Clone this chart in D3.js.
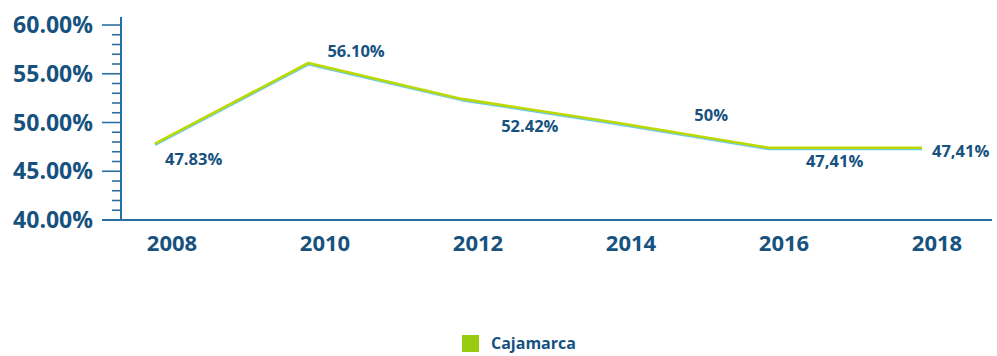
<!DOCTYPE html>
<html>
<head>
<meta charset="utf-8">
<script src="https://cdn.jsdelivr.net/npm/d3@7"></script>
<style>
  html, body { margin: 0; padding: 0; background: #ffffff; }
  svg { display: block; }
  text { font-family: "Open Sans", "Noto Sans", sans-serif; }
</style>
</head>
<body>
<svg id="chart" width="997" height="356"></svg>
<script>
// Share of population (Cajamarca), by survey year
const years = [2008, 2010, 2012, 2014, 2016, 2018];
const values = [47.83, 56.10, 52.42, 50.00, 47.41, 47.41];
const valueLabels = ["47.83%", "56.10%", "52.42%", "50%", "47,41%", "47,41%"];
const yTicks = [40, 45, 50, 55, 60];
const seriesName = "Cajamarca";

const blue = "#17527f";
const axisBlue = "#2a6fa3";
const lineGreen = "#bcd800";
const lineShadow = "#6ccbe8";
const legendGreen = "#99cc11";

const svg = d3.select("#chart");

// scales
const y = d3.scaleLinear().domain([40, 60]).range([220, 25]);
const xLabel = d3.scalePoint().domain(years).range([172, 937]);
const xLine = d3.scaleLinear().domain([2008, 2018]).range([155, 922]);

// y axis: vertical line, major and minor ticks
const axisX = 121;
svg.append("line")
  .attr("x1", axisX).attr("x2", axisX)
  .attr("y1", 17).attr("y2", y(40))
  .attr("stroke", axisBlue).attr("stroke-width", 2);

const minor = d3.range(40, 61, 1);
svg.append("g").selectAll("line").data(minor).join("line")
  .attr("x1", d => d % 5 === 0 ? 102 : 112)
  .attr("x2", axisX)
  .attr("y1", d => y(d)).attr("y2", d => y(d))
  .attr("stroke", axisBlue).attr("stroke-width", 1.6);

svg.append("g").selectAll("text").data(yTicks).join("text")
  .attr("x", 93).attr("y", d => y(d))
  .attr("dy", "0.35em")
  .attr("text-anchor", "end")
  .attr("font-size", 23).attr("font-weight", 700)
  .attr("fill", blue)
  .text(d => d.toFixed(2) + "%");

// x axis baseline
svg.append("line")
  .attr("x1", 102).attr("x2", 992)
  .attr("y1", y(40)).attr("y2", y(40))
  .attr("stroke", axisBlue).attr("stroke-width", 2);

svg.append("g").selectAll("text").data(years).join("text")
  .attr("x", d => xLabel(d)).attr("y", 251)
  .attr("text-anchor", "middle")
  .attr("font-size", 22).attr("font-weight", 700)
  .attr("fill", blue)
  .text(d => d);

// series line with a thin cyan edge beneath
const pts = years.map((yr, i) => ({ year: yr, value: values[i], label: valueLabels[i] }));
const line = d3.line().x(d => xLine(d.year)).y(d => y(d.value));

svg.append("path").datum(pts)
  .attr("d", line)
  .attr("transform", "translate(0,1.2)")
  .attr("fill", "none")
  .attr("stroke", lineShadow).attr("stroke-width", 2.6)
  .attr("stroke-linejoin", "round");

svg.append("path").datum(pts)
  .attr("d", line)
  .attr("fill", "none")
  .attr("stroke", lineGreen).attr("stroke-width", 2.6)
  .attr("stroke-linejoin", "round");

// value labels
const labelPos = [
  { dx: 10, dy: 21, anchor: "start" },
  { dx: 19, dy: -6, anchor: "start" },
  { dx: 68, dy: 33, anchor: "middle" },
  { dx: 96, dy: -2, anchor: "middle" },
  { dx: 66, dy: 19, anchor: "middle" },
  { dx: 10, dy: 9, anchor: "start" }
];
svg.append("g").selectAll("text").data(pts).join("text")
  .attr("x", (d, i) => xLine(d.year) + labelPos[i].dx)
  .attr("y", (d, i) => y(d.value) + labelPos[i].dy)
  .attr("text-anchor", (d, i) => labelPos[i].anchor)
  .attr("font-size", 16.5).attr("font-weight", 700)
  .attr("fill", blue)
  .text(d => d.label);

// legend
const legend = svg.append("g").attr("transform", "translate(462,335)");
legend.append("rect")
  .attr("width", 17).attr("height", 17)
  .attr("fill", legendGreen);
legend.append("text")
  .attr("x", 29).attr("y", 14)
  .attr("font-size", 16).attr("font-weight", 700)
  .attr("fill", blue)
  .text(seriesName);
</script>
</body>
</html>
